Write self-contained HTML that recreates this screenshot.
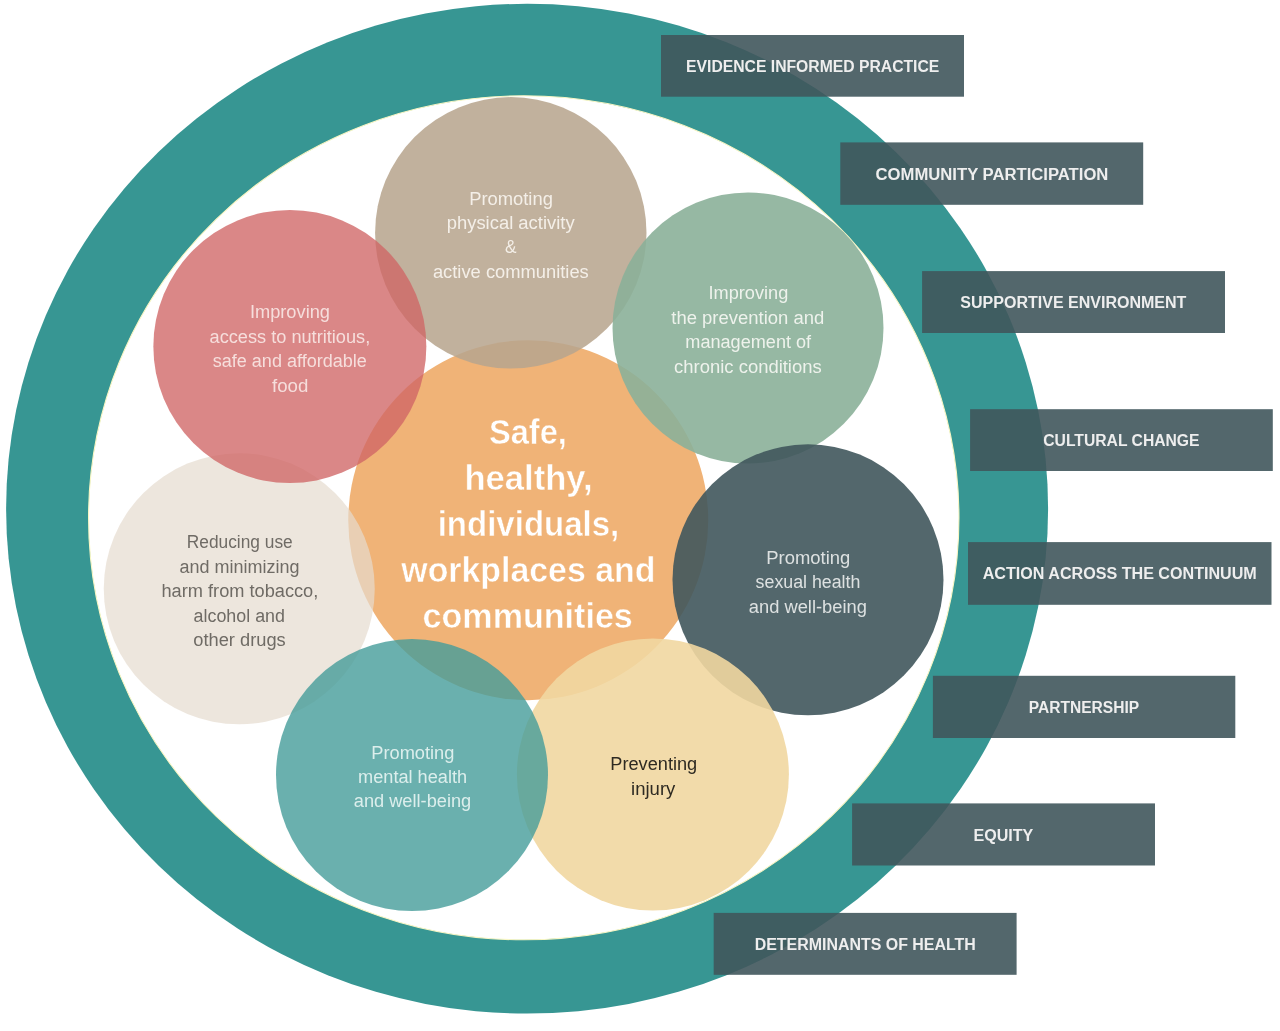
<!DOCTYPE html>
<html><head><meta charset="utf-8"><style>
html,body{margin:0;padding:0;background:#fff;width:1280px;height:1031px;overflow:hidden}
svg{display:block;will-change:transform;font-family:"Liberation Sans",sans-serif}
</style></head><body>
<svg width="1280" height="1031" viewBox="0 0 1280 1031" font-family="Liberation Sans, sans-serif">
<ellipse cx="527.1" cy="508.7" rx="521" ry="504.9" fill="#379693"/>
<ellipse cx="523.75" cy="517.8" rx="435.2" ry="422.0" fill="#ffffff" stroke="#f8f6c4" stroke-width="1.1"/>
<circle cx="528.25" cy="520.2" r="180" fill="#F0B377" fill-opacity="1.0"/>
<circle cx="510.8" cy="232.8" r="135.7" fill="rgb(184,165,143)" fill-opacity="0.87"/>
<circle cx="239.25" cy="588.8" r="135.5" fill="rgb(229,219,206)" fill-opacity="0.7"/>
<circle cx="289.85" cy="346.5" r="136.5" fill="rgb(208,101,101)" fill-opacity="0.78"/>
<circle cx="748.0" cy="328.0" r="135.5" fill="rgb(139,176,153)" fill-opacity="0.9"/>
<circle cx="808.0" cy="579.8" r="135.5" fill="rgb(64,86,92)" fill-opacity="0.9"/>
<circle cx="652.9" cy="774.5" r="136" fill="rgb(241,215,161)" fill-opacity="0.9"/>
<circle cx="412.0" cy="775.1" r="136" fill="rgb(69,156,154)" fill-opacity="0.8"/>
<text x="469.20" y="204.80" font-size="18" fill="#F4EFE8" textLength="83.69" lengthAdjust="spacingAndGlyphs">Promoting</text>
<text x="446.70" y="229.10" font-size="18" fill="#F4EFE8" textLength="128.00" lengthAdjust="spacingAndGlyphs">physical activity</text>
<text x="505.00" y="253.40" font-size="18" fill="#F4EFE8" textLength="11.50" lengthAdjust="spacingAndGlyphs">&amp;</text>
<text x="432.90" y="277.70" font-size="18" fill="#F4EFE8" textLength="155.90" lengthAdjust="spacingAndGlyphs">active communities</text>
<text x="249.90" y="318.20" font-size="18" fill="#F6DEDC" textLength="80.09" lengthAdjust="spacingAndGlyphs">Improving</text>
<text x="209.60" y="342.80" font-size="18" fill="#F6DEDC" textLength="160.61" lengthAdjust="spacingAndGlyphs">access to nutritious,</text>
<text x="212.70" y="367.40" font-size="18" fill="#F6DEDC" textLength="154.20" lengthAdjust="spacingAndGlyphs">safe and affordable</text>
<text x="272.00" y="392.00" font-size="18" fill="#F6DEDC" textLength="36.31" lengthAdjust="spacingAndGlyphs">food</text>
<text x="708.50" y="298.90" font-size="18" fill="#EEF2EC" textLength="79.79" lengthAdjust="spacingAndGlyphs">Improving</text>
<text x="671.30" y="323.50" font-size="18" fill="#EEF2EC" textLength="153.00" lengthAdjust="spacingAndGlyphs">the prevention and</text>
<text x="685.30" y="348.10" font-size="18" fill="#EEF2EC" textLength="125.86" lengthAdjust="spacingAndGlyphs">management of</text>
<text x="674.10" y="372.70" font-size="18" fill="#EEF2EC" textLength="147.61" lengthAdjust="spacingAndGlyphs">chronic conditions</text>
<text x="766.25" y="563.75" font-size="18" fill="#DDE1E1" textLength="83.99" lengthAdjust="spacingAndGlyphs">Promoting</text>
<text x="755.60" y="588.10" font-size="18" fill="#DDE1E1" textLength="104.80" lengthAdjust="spacingAndGlyphs">sexual health</text>
<text x="748.75" y="612.50" font-size="18" fill="#DDE1E1" textLength="118.15" lengthAdjust="spacingAndGlyphs">and well-being</text>
<text x="610.30" y="770.40" font-size="18" fill="#2E2A22" textLength="86.90" lengthAdjust="spacingAndGlyphs">Preventing</text>
<text x="631.10" y="795.30" font-size="18" fill="#2E2A22" textLength="44.19" lengthAdjust="spacingAndGlyphs">injury</text>
<text x="371.25" y="758.50" font-size="18" fill="#DCEEEC" textLength="83.14" lengthAdjust="spacingAndGlyphs">Promoting</text>
<text x="358.10" y="782.75" font-size="18" fill="#DCEEEC" textLength="109.00" lengthAdjust="spacingAndGlyphs">mental health</text>
<text x="353.75" y="807.25" font-size="18" fill="#DCEEEC" textLength="117.50" lengthAdjust="spacingAndGlyphs">and well-being</text>
<text x="186.80" y="547.80" font-size="18" fill="#6F6B65" textLength="105.90" lengthAdjust="spacingAndGlyphs">Reducing use</text>
<text x="179.50" y="572.50" font-size="18" fill="#6F6B65" textLength="119.91" lengthAdjust="spacingAndGlyphs">and minimizing</text>
<text x="161.50" y="597.40" font-size="18" fill="#6F6B65" textLength="156.81" lengthAdjust="spacingAndGlyphs">harm from tobacco,</text>
<text x="193.60" y="621.80" font-size="18" fill="#6F6B65" textLength="91.40" lengthAdjust="spacingAndGlyphs">alcohol and</text>
<text x="193.30" y="646.20" font-size="18" fill="#6F6B65" textLength="92.39" lengthAdjust="spacingAndGlyphs">other drugs</text>
<text x="488.90" y="444.20" font-size="35" font-weight="bold" fill="#FFFFFF" textLength="78.01" lengthAdjust="spacingAndGlyphs" stroke="#F0B377" stroke-width="0.45" paint-order="fill">Safe,</text>
<text x="464.50" y="490.30" font-size="35" font-weight="bold" fill="#FFFFFF" textLength="127.99" lengthAdjust="spacingAndGlyphs" stroke="#F0B377" stroke-width="0.45" paint-order="fill">healthy,</text>
<text x="437.70" y="536.20" font-size="35" font-weight="bold" fill="#FFFFFF" textLength="181.60" lengthAdjust="spacingAndGlyphs" stroke="#F0B377" stroke-width="0.45" paint-order="fill">individuals,</text>
<text x="401.30" y="582.30" font-size="35" font-weight="bold" fill="#FFFFFF" textLength="254.10" lengthAdjust="spacingAndGlyphs" stroke="#F0B377" stroke-width="0.45" paint-order="fill">workplaces and</text>
<text x="422.60" y="628.10" font-size="35" font-weight="bold" fill="#FFFFFF" textLength="210.20" lengthAdjust="spacingAndGlyphs" stroke="#F0B377" stroke-width="0.45" paint-order="fill">communities</text>
<rect x="661" y="35" width="303.0" height="61.7" fill="rgb(64,87,92)" fill-opacity="0.9"/>
<text x="686.10" y="72.20" font-size="16" font-weight="bold" fill="#EEEEEE" textLength="253.21" lengthAdjust="spacingAndGlyphs">EVIDENCE INFORMED PRACTICE</text>
<rect x="840.3" y="142.4" width="302.9" height="62.4" fill="rgb(64,87,92)" fill-opacity="0.9"/>
<text x="875.60" y="179.80" font-size="16" font-weight="bold" fill="#EEEEEE" textLength="232.80" lengthAdjust="spacingAndGlyphs">COMMUNITY PARTICIPATION</text>
<rect x="922.1" y="271.1" width="302.9" height="61.9" fill="rgb(64,87,92)" fill-opacity="0.9"/>
<text x="960.30" y="307.70" font-size="16" font-weight="bold" fill="#EEEEEE" textLength="226.10" lengthAdjust="spacingAndGlyphs">SUPPORTIVE ENVIRONMENT</text>
<rect x="970.1" y="409.2" width="302.7" height="61.8" fill="rgb(64,87,92)" fill-opacity="0.9"/>
<text x="1043.30" y="445.80" font-size="16" font-weight="bold" fill="#EEEEEE" textLength="156.21" lengthAdjust="spacingAndGlyphs">CULTURAL CHANGE</text>
<rect x="968" y="542.1" width="303.5" height="62.7" fill="rgb(64,87,92)" fill-opacity="0.9"/>
<text x="982.70" y="579.00" font-size="16" font-weight="bold" fill="#EEEEEE" textLength="274.10" lengthAdjust="spacingAndGlyphs">ACTION ACROSS THE CONTINUUM</text>
<rect x="932.9" y="675.8" width="302.4" height="62.2" fill="rgb(64,87,92)" fill-opacity="0.9"/>
<text x="1028.80" y="712.70" font-size="16" font-weight="bold" fill="#EEEEEE" textLength="110.30" lengthAdjust="spacingAndGlyphs">PARTNERSHIP</text>
<rect x="852.1" y="803.4" width="302.9" height="62.1" fill="rgb(64,87,92)" fill-opacity="0.9"/>
<text x="973.50" y="840.80" font-size="16" font-weight="bold" fill="#EEEEEE" textLength="59.79" lengthAdjust="spacingAndGlyphs">EQUITY</text>
<rect x="713.7" y="912.9" width="302.9" height="61.9" fill="rgb(64,87,92)" fill-opacity="0.9"/>
<text x="754.70" y="949.80" font-size="16" font-weight="bold" fill="#EEEEEE" textLength="221.10" lengthAdjust="spacingAndGlyphs">DETERMINANTS OF HEALTH</text>
</svg>
</body></html>
